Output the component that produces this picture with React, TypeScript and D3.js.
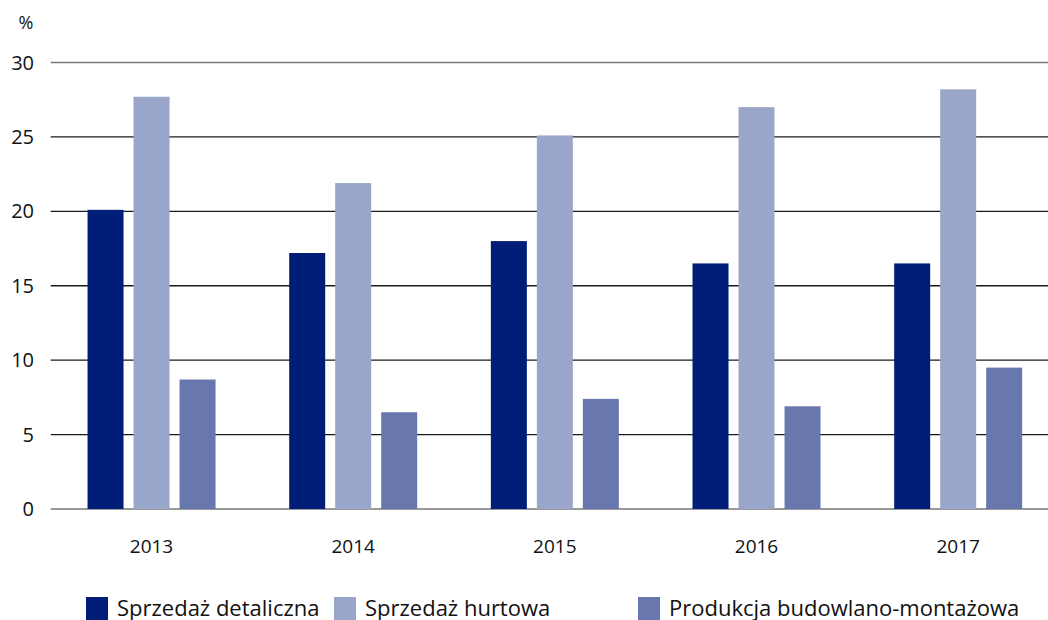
import React from "react";
import * as d3 from "d3";

const years = ["2013", "2014", "2015", "2016", "2017"];
const seriesNames = ["Sprzedaż detaliczna", "Sprzedaż hurtowa", "Produkcja budowlano-montażowa"];
const detaliczna = [20.1, 17.2, 18.0, 16.5, 16.5];
const hurtowa = [27.7, 21.9, 25.1, 27.0, 28.2];
const budowlana = [8.7, 6.5, 7.4, 6.9, 9.5];
const yTicks = [0, 5, 10, 15, 20, 25, 30];
const colors = ["#001e78", "#99a6c9", "#6878ae"];

const W = 1048;
const H = 620;
const left = 50.7;
const right = 1059;
const top = 62.5;
const bottom = 509;

const App = () => {
  const series = [detaliczna, hurtowa, budowlana];
  const x = d3.scaleBand<string>().domain(years).range([left, right]).padding(0);
  const y = d3.scaleLinear().domain([0, 30]).range([bottom, top]);
  const barW = 36;
  const gap = 10;
  const groupW = barW * 3 + gap * 2;

  const legendX = [86, 334, 638];

  return (
    <svg width={W} height={H} style={{ position: "absolute", left: 0, top: 0, fontFamily: "'Open Sans', 'Noto Sans', sans-serif" }}>
      <rect width={W} height={H} fill="#fff" />
      <text x={26} y={29} fontSize={18} textAnchor="middle" fill="#111">%</text>
      {yTicks.map((t) => (
        <g key={t}>
          <line
            x1={left}
            x2={W}
            y1={y(t)}
            y2={y(t)}
            stroke={t === 0 || t === 30 ? "#777" : "#1a1a1a"}
            strokeWidth={1.3}
          />
          <text x={34} y={y(t)} dy="0.35em" fontSize={20} textAnchor="end" fill="#111">{t}</text>
        </g>
      ))}
      {years.map((yr, i) => {
        const cx = (x(yr) as number) + x.bandwidth() / 2;
        return (
          <g key={yr}>
            {series.map((s, k) => (
              <rect
                key={k}
                x={cx - groupW / 2 + k * (barW + gap)}
                y={y(s[i])}
                width={barW}
                height={bottom - y(s[i])}
                fill={colors[k]}
              />
            ))}
            <text x={cx} y={546} dy="0.35em" fontSize={19} textAnchor="middle" fill="#111">{yr}</text>
          </g>
        );
      })}
      {seriesNames.map((n, k) => (
        <g key={n}>
          <rect x={legendX[k]} y={597} width={22} height={23} fill={colors[k]} />
          <text x={legendX[k] + 31} y={616} fontSize={22} fill="#111">{n}</text>
        </g>
      ))}
    </svg>
  );
};

export default App;
